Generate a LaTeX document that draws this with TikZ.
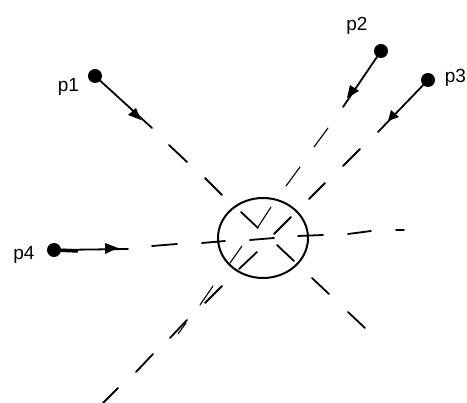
\documentclass[tikz,border=0pt]{standalone}
\usetikzlibrary{shapes.geometric}
\usepackage{fontspec}
\setmainfont{Liberation Sans}
\begin{document}
\begin{tikzpicture}[x=1pt,y=-1pt,
  seg/.style={line width=1.8pt,line cap=round},
  thinseg/.style={line width=1.1pt,line cap=round},
  dot/.style={circle,fill=black,inner sep=0pt,minimum size=14pt},
  lab/.style={font=\fontsize{19}{21}\selectfont,inner sep=0pt},
  hub/.style={draw,ellipse,line width=2pt,inner sep=0pt,minimum width=90pt,minimum height=80pt}]
\useasboundingbox (0,0) rectangle (467,403);
\node[dot] (p1) at (95,76) {};
\node[dot] (p2) at (381,51) {};
\node[dot] (p3) at (428,80) {};
\node[dot] (p4) at (54,250) {};
\node[lab] (l1) at (68.5,87) {p1};
\node[lab] (l2) at (357,26) {p2};
\node[lab] (l3) at (455.5,78) {p3};
\node[lab] (l4) at (24,255) {p4};
\node[hub] (hub) at (263,238) {};
\coordinate (e1) at (152,128);
\coordinate (e2) at (343,107);
\coordinate (e3) at (378,132);
\coordinate (e4) at (128,249);
\draw[seg] (p1.center) -- (e1);
\draw[seg] (p2.center) -- (e2);
\draw[seg] (p3.center) -- (e3);
\draw[seg] (p4.center) -- (e4);
\draw[line width=3.5pt] (p4.center) -- (78,251);
\fill (141,120) -- (128,115) -- (136,108) -- cycle;
\fill (347,98) -- (350,85) -- (359,91) -- cycle;
\fill (388,121) -- (391,110) -- (399,117) -- cycle;
\fill (118,248) -- (105,243) -- (105,254) -- cycle;
% dashes
\draw[seg] (205,178) -- (222,195);
\draw[seg] (169,145) -- (187,162);
\draw[thinseg] (286,186) -- (300,167);
\draw[thinseg] (314,147) -- (328,128);
\draw[seg] (309,199) -- (325,183);
\draw[seg] (343,166) -- (360,149);
\draw[seg] (152,246) -- (177,244);
\draw[seg] (202,243) -- (225,241);
\draw[seg] (241,212) -- (258,228);
\draw[thinseg] (258,227) -- (271,207);
\draw[seg] (274,234) -- (291,217);
\draw[seg] (250,240) -- (274,238);
\draw[seg] (277,245) -- (294,261);
\draw[thinseg] (230,263) -- (242,246);
\draw[seg] (239,269) -- (257,252);
\draw[seg] (298,236) -- (323,235);
\draw[seg] (348,234) -- (371,231);
\draw[seg] (396,230) -- (404,230);
\draw[seg] (312,278) -- (329,294);
\draw[seg] (348,312) -- (365,328);
\draw[thinseg] (200,305) -- (213,286);
\draw[seg] (205,303) -- (222,286);
\draw[seg] (170,338) -- (187,320);
\draw[thinseg] (178,334) -- (186,323);
\draw[seg] (136,372) -- (153,354);
\draw[seg] (103,403) -- (118,388);
\end{tikzpicture}
\end{document}
